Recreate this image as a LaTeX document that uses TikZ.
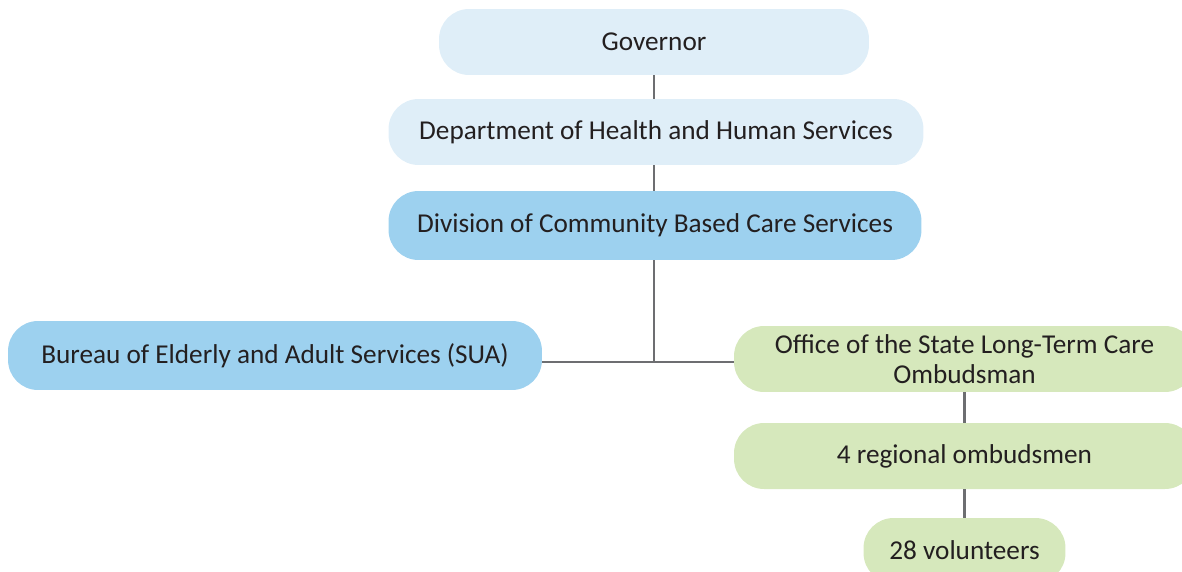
\documentclass[tikz,border=0pt]{standalone}
\usepackage{fontspec}
\setmainfont{Carlito}
\usetikzlibrary{positioning}

\definecolor{paleblue}{HTML}{DFEEF8}
\definecolor{midblue}{HTML}{9DD1EF}
\definecolor{palegreen}{HTML}{D6E8BC}
\definecolor{linegray}{HTML}{6D6E71}
\definecolor{textdark}{HTML}{231F20}

\begin{document}
\begin{tikzpicture}[x=0.02cm,y=-0.02cm,
    box/.style={rounded corners=0.6cm, inner sep=0pt, align=center, text=textdark,
      font=\fontsize{15.5}{17}\selectfont, minimum height=1.32cm},
    link/.style={draw=linegray, line width=0.05cm}]

    \useasboundingbox (0,0) rectangle (1182,571);
    \clip (0,0) rectangle (1182,571);

    \node[box, fill=paleblue, minimum width=8.6cm]  at (654,42)    (governor) {Governor};
    \node[box, fill=paleblue, minimum width=10.7cm] at (656,132)   (dhhs) {Department of Health and Human Services};
    \node[box, fill=midblue, minimum width=10.66cm, minimum height=1.38cm] at (655,225.5) (division) {Division of Community Based Care Services};

    \node[box, fill=midblue, minimum width=10.68cm, minimum height=1.38cm] at (275,355.5) (bureau) {Bureau of Elderly and Adult Services (SUA)};
    \node[box, fill=palegreen, minimum width=9.22cm] at (964.5,359) (office) {Office of the State Long-Term Care\\Ombudsman};
    \node[box, fill=palegreen, minimum width=9.22cm] at (964.5,456) (regional) {4 regional ombudsmen};
    \node[box, fill=palegreen, minimum width=4.04cm, minimum height=1.3cm] at (964.5,550.5) (volunteers) {28 volunteers};

    \coordinate (junction) at (654,362);

    \draw[link] (governor.south -| junction) -- (dhhs.north -| junction);
    \draw[link] (dhhs.south -| junction) -- (division.north -| junction);
    \draw[link] (division.south -| junction) -- (junction);
    \draw[link] (bureau.east |- junction) -- (office.west |- junction);

    \draw[link] (office) -- (regional);
    \draw[link] (regional) -- (volunteers);

\end{tikzpicture}
\end{document}
